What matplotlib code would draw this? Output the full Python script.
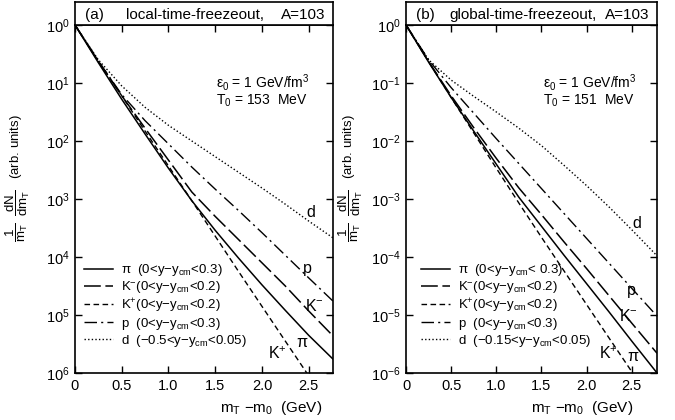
import numpy as np
import matplotlib
matplotlib.use("Agg")
import matplotlib.pyplot as plt

# transverse mass grid (GeV) and log10 of the spectra
x_a = [0, 0.25, 0.5, 0.75, 1.0, 1.25, 1.5, 1.75, 2.0, 2.25, 2.5, 2.76]
pi_a = [0, -0.65, -1.28, -1.88, -2.47, -3.03, -3.54, -4.02, -4.48, -4.92, -5.35, -5.76]
km_a = [0, -0.63, -1.22, -1.78, -2.33, -2.88, -3.30, -3.70, -4.10, -4.50, -4.93, -5.36]
p_a = [0, -0.62, -1.20, -1.65, -2.05, -2.45, -2.83, -3.20, -3.58, -3.97, -4.36, -4.76]
d_a = [0, -0.60, -1.05, -1.42, -1.73, -2.00, -2.27, -2.54, -2.81, -3.09, -3.38, -3.67]
xkp_a = [0, 0.25, 0.5, 0.75, 1.0, 1.25, 1.5, 1.75, 2.0, 2.25, 2.48]
kp_a = [0, -0.62, -1.22, -1.83, -2.43, -3.03, -3.64, -4.25, -4.85, -5.45, -6.0]

x_b = [0, 0.25, 0.5, 0.75, 1.0, 1.25, 1.5, 1.75, 2.0, 2.25, 2.5, 2.78]
pi_b = [0, -0.64, -1.25, -1.83, -2.40, -2.97, -3.47, -3.97, -4.46, -4.95, -5.45, -6.0]
km_b = [0, -0.63, -1.22, -1.77, -2.30, -2.81, -3.27, -3.74, -4.20, -4.67, -5.14, -5.66]
p_b = [0, -0.60, -1.08, -1.52, -1.96, -2.39, -2.82, -3.25, -3.68, -4.11, -4.54, -5.02]
d_b = [0, -0.60, -0.95, -1.23, -1.50, -1.78, -2.08, -2.42, -2.77, -3.14, -3.53, -3.98]
xkp_b = [0, 0.25, 0.5, 0.75, 1.0, 1.25, 1.5, 1.75, 2.0, 2.25, 2.51]
kp_b = [0, -0.63, -1.25, -1.86, -2.47, -3.07, -3.66, -4.24, -4.82, -5.40, -6.0]

xticks = [0, 0.5, 1.0, 1.5, 2.0, 2.5]
xticklabels = ["0", "0.5", "1.0", "1.5", "2.0", "2.5"]
yticks = [1e0, 1e-1, 1e-2, 1e-3, 1e-4, 1e-5, 1e-6]
ylabels_a = [r"10$^{0}$", r"10$^{1}$", r"10$^{2}$", r"10$^{3}$", r"10$^{4}$", r"10$^{5}$", r"10$^{6}$"]
ylabels_b = [r"10$^{0}$", r"10$^{-1}$", r"10$^{-2}$", r"10$^{-3}$", r"10$^{-4}$", r"10$^{-5}$", r"10$^{-6}$"]

leg_a = [r"$\pi$  (0<y$-$y$_{cm}$<0.3)", r"K$^{-}$(0<y$-$y$_{cm}$<0.2)", r"K$^{+}$(0<y$-$y$_{cm}$<0.2)",
         r"p  (0<y$-$y$_{cm}$<0.3)", r"d  ($-$0.5<y$-$y$_{cm}$<0.05)"]
leg_b = [r"$\pi$  (0<y$-$y$_{cm}$< 0.3)", r"K$^{-}$(0<y$-$y$_{cm}$<0.2)", r"K$^{+}$(0<y$-$y$_{cm}$<0.2)",
         r"p  (0<y$-$y$_{cm}$<0.3)", r"d  ($-$0.15<y$-$y$_{cm}$<0.05)"]

styles = {
    "pi": dict(ls="-"),
    "km": dict(ls=(0, (11, 3))),
    "kp": dict(ls=(0, (4, 2.5))),
    "p": dict(ls=(0, (9, 3, 1.5, 3))),
    "d": dict(ls=(0, (1, 1.6))),
}

plt.rcParams["font.family"] = ["Liberation Sans", "DejaVu Sans"]
plt.rcParams["mathtext.fontset"] = "custom"
plt.rcParams["mathtext.rm"] = "Liberation Sans"
plt.rcParams["mathtext.it"] = "Liberation Sans"
plt.rcParams["mathtext.bf"] = "Liberation Sans:bold"
plt.rcParams["mathtext.sf"] = "Liberation Sans"

fig = plt.figure(figsize=(6.75, 4.2), dpi=100)


def panel(rect, xmax, xs, xkp, pi, km, kp, p, d, ylabels, legtxt, tag, title, temp, labpos, xlab_x, leg_x):
    ax = fig.add_axes(rect)
    ax.semilogy(xs, 10 ** np.array(pi), color="k", lw=1.1, **styles["pi"], label=legtxt[0])
    ax.semilogy(xs, 10 ** np.array(km), color="k", lw=1.1, **styles["km"], label=legtxt[1])
    ax.semilogy(xkp, 10 ** np.array(kp), color="k", lw=1.0, **styles["kp"], label=legtxt[2])
    ax.semilogy(xs, 10 ** np.array(p), color="k", lw=1.0, **styles["p"], label=legtxt[3])
    ax.semilogy(xs, 10 ** np.array(d), color="k", lw=1.0, **styles["d"], label=legtxt[4])
    ax.set_xlim(0, xmax)
    ax.set_ylim(1e-6, 1e0)
    ax.set_xticks(xticks)
    ax.set_xticklabels(xticklabels)
    ax.set_yticks(yticks)
    ax.set_yticklabels(ylabels)
    ax.minorticks_off()
    ax.tick_params(direction="in", top=True, right=True, length=5, width=1, labelsize=10.5, pad=4)
    for s in ax.spines.values():
        s.set_linewidth(1.2)
    ax.legend(loc="lower left", bbox_to_anchor=(leg_x, 0.07), frameon=False, fontsize=9.5,
              handlelength=2.2, handletextpad=0.6, labelspacing=0.08, borderaxespad=0, borderpad=0)
    ax.text(0.545, 0.835, r"$\epsilon_0$ = 1 GeV/fm$^3$", transform=ax.transAxes, fontsize=10, va="center")
    ax.text(0.545, 0.783, r"T$_0$ = " + temp + "  MeV", transform=ax.transAxes, fontsize=10, va="center")
    for (lx, ly, s) in labpos:
        ax.text(lx, 10 ** ly, s, fontsize=11.5, ha="center", va="center")
    ax.set_xlabel(r"m$_T$ $-$m$_0$  (GeV)", fontsize=11)
    ax.xaxis.set_label_coords(xlab_x, -0.075)
    ax.set_ylabel(r"$\dfrac{1}{m_T}\ \ \dfrac{dN}{dm_T}$   (arb. units)", fontsize=9.5)
    ax.yaxis.set_label_coords(-0.165, 0.56)

    tb = fig.add_axes([rect[0], rect[1] + rect[3], rect[2], 0.055])
    tb.set_xticks([])
    tb.set_yticks([])
    for s in tb.spines.values():
        s.set_linewidth(1.2)
    tb.text(0.04, 0.45, tag, fontsize=11, va="center", transform=tb.transAxes)
    tb.text(0.465, 0.45, title, fontsize=11, va="center", ha="center", transform=tb.transAxes)
    tb.text(0.97, 0.45, "A=103", fontsize=11, va="center", ha="right", transform=tb.transAxes)
    return ax


panel([0.1111, 0.1119, 0.3822, 0.8286], 2.76, x_a, xkp_a, pi_a, km_a, kp_a, p_a, d_a,
      ylabels_a, leg_a, "(a)", "local-time-freezeout,", "153",
      [(2.52, -3.24, "d"), (2.49, -4.19, "p"), (2.56, -4.84, r"K$^{-}$"),
       (2.43, -5.48, r"$\pi$"), (2.17, -5.66, r"K$^{+}$")], 0.76, 0.035)
panel([0.6015, 0.1119, 0.3719, 0.8286], 2.78, x_b, xkp_b, pi_b, km_b, kp_b, p_b, d_b,
      ylabels_b, leg_b, "(b)", "global-time-freezeout,", "151",
      [(2.56, -3.43, "d"), (2.50, -4.58, "p"), (2.46, -5.02, r"K$^{-}$"),
       (2.52, -5.71, r"$\pi$"), (2.24, -5.66, r"K$^{+}$")], 0.70, 0.06)

fig.savefig("out.png", dpi=100)
